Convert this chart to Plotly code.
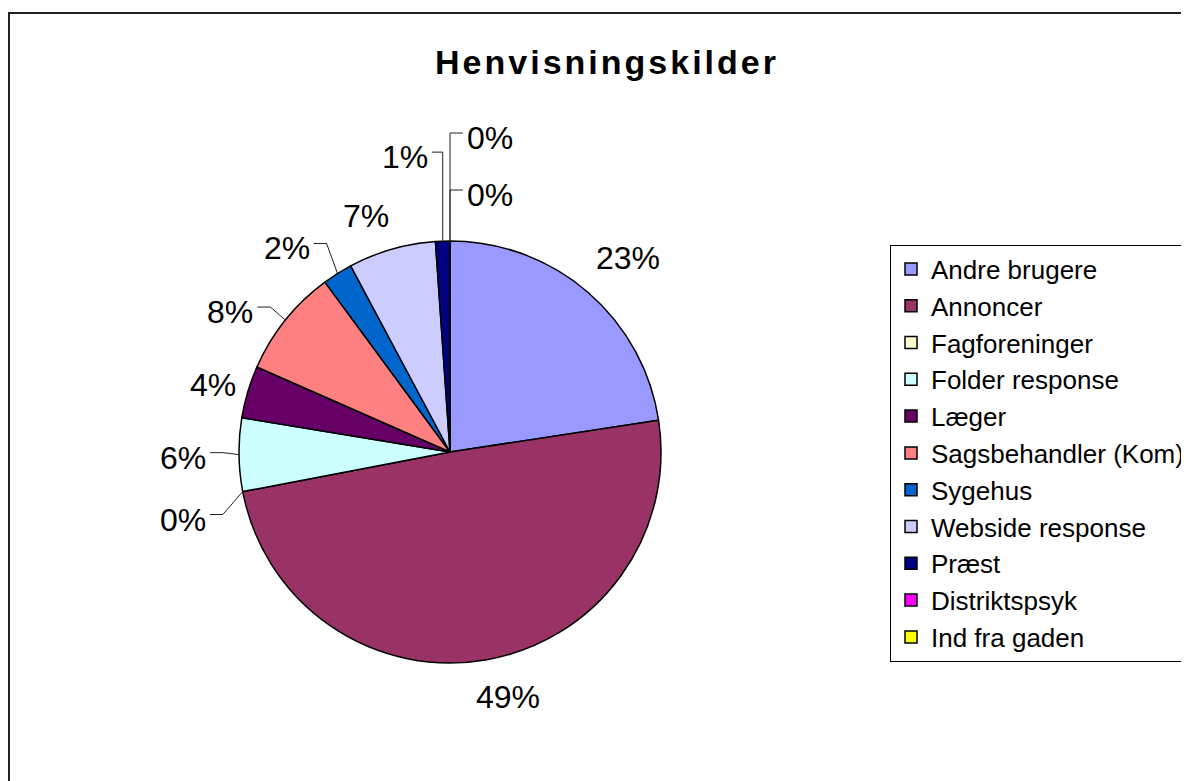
import math
import plotly.graph_objects as go

# ---------------- data ----------------
labels = ["Andre brugere", "Annoncer", "Fagforeninger", "Folder response", "Læger",
          "Sagsbehandler (Kom)", "Sygehus", "Webside response", "Præst",
          "Distriktspsyk", "Ind fra gaden"]
values = [22.6, 49.4, 0, 5.6, 4.0, 8.3, 2.3, 6.7, 1.1, 0, 0]
title_text = "Henvisningskilder"

# ---------------- styles / layout ----------------
colors = ["#9999FF", "#993366", "#FFFFCC", "#CCFFFF", "#660066", "#FF8080",
          "#0066CC", "#CCCCFF", "#000080", "#FF00FF", "#FFFF00"]
W, H = 1189, 781
PAGE_MARGIN = 8                     # default body margin of the html page
CX, CY, R = 450, 452, 211          # pie centre / radius in page px
FONT = "Liberation Sans, Arial, sans-serif"
LABEL_SIZE = 32
# label offset (px) from the slice's outer mid-point, and whether a leader line is drawn
label_offset = [(40, -34), (22, 37), (-60, 28), (-56, 3), (-35, -7), (-55, -8),
                (-51, -25), (-26, -33), (-38, -84), (40, -46), (40, -103)]
leader = [False, False, True, True, False, True, True, False, True, True, True]


def px(x):
    return (x - PAGE_MARGIN) / W


def py(y):
    return 1 - (y - PAGE_MARGIN) / H


fig = go.Figure(go.Pie(
    labels=labels, values=values, sort=False, direction="clockwise", rotation=0,
    marker=dict(colors=colors, line=dict(color="black", width=1.5)),
    textinfo="none", hoverinfo="label+percent",
    domain=dict(x=[px(CX - R), px(CX + R)], y=[py(CY + R), py(CY - R)]),
))

total = sum(values)
annotations = []
shapes = []
cum = 0.0
for i, v in enumerate(values):
    mid = (cum + v / 2) / total * 2 * math.pi
    cum += v
    ex = CX + R * math.sin(mid)
    ey = CY - R * math.cos(mid)
    lx = ex + label_offset[i][0]
    ly = ey + label_offset[i][1]
    txt = f"{round(v / total * 100)}%"
    annotations.append(dict(x=px(lx), y=py(ly), xref="paper", yref="paper",
                            text=txt, showarrow=False, xanchor="center", yanchor="middle",
                            font=dict(family=FONT, size=LABEL_SIZE, color="black")))
    if leader[i]:
        hw = LABEL_SIZE * (0.556 * (len(txt) - 1) + 0.889) / 2
        if lx < ex:
            ax = lx + hw + 4
            bx = min(ax + 13, ex)
        else:
            ax = lx - hw - 4
            bx = max(ax - 13, ex)
        ay = ly - 5
        path = f"M {px(ex)},{py(ey)} L {px(bx)},{py(ay)} L {px(ax)},{py(ay)}"
        shapes.append(dict(type="path", xref="paper", yref="paper", path=path,
                           line=dict(color="#222222", width=1)))

# outer chart border
shapes.append(dict(type="rect", xref="paper", yref="paper",
                   x0=px(9), y0=-0.05, x1=1.05, y1=py(13),
                   line=dict(color="#222222", width=2)))

fig.update_layout(
    width=W, height=H,
    margin=dict(l=0, r=0, t=0, b=0, autoexpand=False),
    paper_bgcolor="white", plot_bgcolor="white",
    title=dict(text=f'<span style="letter-spacing:3px">{title_text}</span>',
               x=px(607), y=py(62), xanchor="center", yanchor="middle",
               xref="paper", yref="paper",
               font=dict(family=FONT, size=34, color="black", weight=700)),
    legend=dict(x=px(890), y=py(453), xanchor="left", yanchor="middle",
                bordercolor="black", borderwidth=1, bgcolor="white",
                font=dict(family=FONT, size=26, color="black"),
                traceorder="normal"),
    annotations=annotations, shapes=shapes,
    showlegend=True,
)

fig.write_html("out.html")
